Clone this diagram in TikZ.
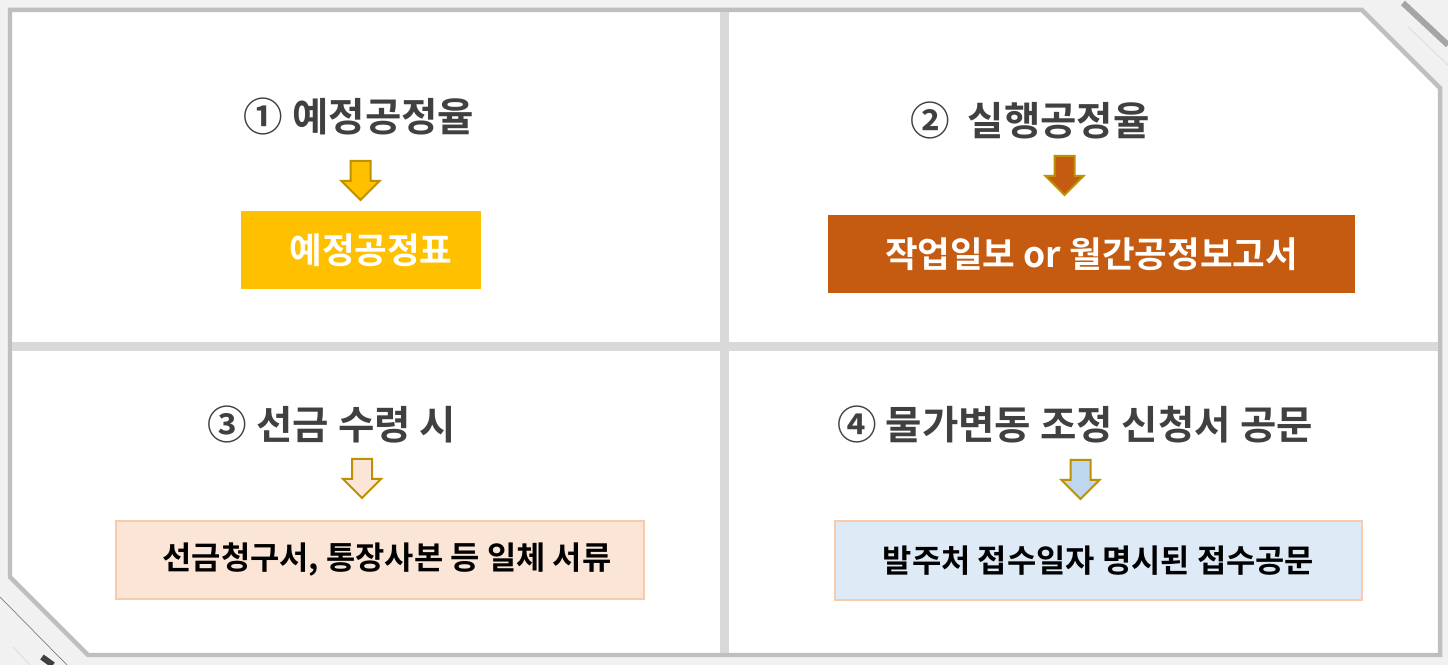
\documentclass[tikz,border=0pt]{standalone}
\usepackage{fontspec}
\usetikzlibrary{shapes.arrows}
\newfontfamily\krfont{Noto Sans CJK KR}[BoldFont={* Bold}]
\definecolor{bggray}{HTML}{F1F1F1}
\definecolor{framegray}{HTML}{BFBFBF}
\definecolor{divgray}{HTML}{D9D9D9}
\definecolor{titlegray}{HTML}{404040}
\definecolor{gold}{HTML}{FFC000}
\definecolor{darkgold}{HTML}{BF9000}
\definecolor{rust}{HTML}{C55A11}
\definecolor{peach}{HTML}{FBE5D6}
\definecolor{peachline}{HTML}{F8CBAD}
\definecolor{paleblue}{HTML}{DEEBF7}
\definecolor{skyblue}{HTML}{BDD7EE}

\begin{document}
\begin{tikzpicture}[x=0.02cm,y=-0.02cm,
  title node/.style={inner sep=0pt,text=titlegray,font=\krfont\bfseries\fontsize{22.5}{26}\selectfont},
  box node/.style={inner sep=0pt,minimum height=1.56cm,font=\krfont\bfseries\fontsize{20.2}{24}\selectfont},
  paper node/.style={box node,draw=peachline,line width=0.04cm,minimum height=1.58cm,font=\krfont\bfseries\fontsize{18.1}{22}\selectfont},
  down arrow/.style={single arrow,shape border rotate=270,anchor=tail,draw=darkgold,line width=0.04cm,inner sep=0.18cm,single arrow head extend=0.18cm,minimum height=0.78cm}]
  \useasboundingbox (0,0) rectangle (1448,665);
  \fill[bggray] (0,0) rectangle (1448,665);
  \draw[framegray!140,line width=0.12cm] (1403,3) -- (1448,45);
  \draw[divgray] (1408,27) -- (1448,65);
  \draw[gray] (0,597) -- (67,665);
  \draw[divgray] (13,647) -- (30,665);
  \draw[titlegray,line width=0.12cm] (42,657) -- (53,665);
  \draw[fill=white,draw=framegray,line width=0.09cm] (10,10) -- (1362,10) -- (1440,88) -- (1440,655) -- (88,655) -- (10,577) -- cycle;
  \draw[divgray,line width=0.18cm] (724.5,12) -- (724.5,653);
  \draw[divgray,line width=0.18cm] (12,346.5) -- (1438,346.5);

  \node[title node] (t1) at (359,116) {① 예정공정율};
  \node[title node] (t2) at (1030,120) {②\ \ 실행공정율};
  \node[title node] (t3) at (332,424) {③ 선금 수령 시};
  \node[title node] (t4) at (1075,424) {④ 물가변동 조정 신청서 공문};

  \node[down arrow,fill=gold] (a1) at (360.5,160) {};
  \node[down arrow,fill=rust] (a2) at (1064.5,155) {};
  \node[down arrow,fill=peach] (a3) at (362,458) {};
  \node[down arrow,fill=skyblue] (a4) at (1080.5,459) {};

  \node[box node,fill=gold,text=white,minimum width=4.8cm] (b1) at (361,250) {\hspace{0.4cm}예정공정표};
  \node[box node,fill=rust,text=white,minimum width=10.54cm] (b2) at (1091.5,254) {작업일보 or 월간공정보고서\hspace{0.2cm}};
  \node[paper node,fill=peach,minimum width=10.56cm] (b3) at (380,560) {\hspace{0.28cm}선금청구서, 통장사본 등 일체 서류};
  \node[paper node,fill=paleblue,minimum width=10.54cm] (b4) at (1098.5,560.5) {발주처 접수일자 명시된 접수공문\hspace{0.3cm}};
\end{tikzpicture}
\end{document}
